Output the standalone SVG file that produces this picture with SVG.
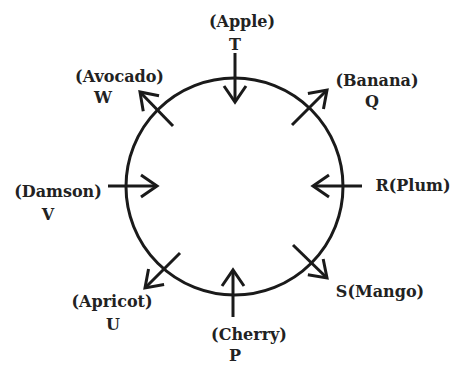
<svg xmlns="http://www.w3.org/2000/svg" width="454" height="365" viewBox="0 0 454 365">
<defs>
<marker id="ah" markerUnits="userSpaceOnUse" orient="auto" markerWidth="40" markerHeight="40" refX="0" refY="0" viewBox="-20 -20 40 40" overflow="visible">
<path d="M-16,-11 L0,0 L-16,11" fill="none" stroke="#1a1a1a" stroke-width="3" stroke-linejoin="miter" stroke-linecap="butt"/>
</marker>
<style>
.lbl{font-family:"DejaVu Serif","Liberation Serif",serif;font-weight:bold;font-size:16px;fill:#222;text-anchor:middle}
.ar{stroke:#1a1a1a;stroke-width:3;fill:none;marker-end:url(#ah)}
</style>
</defs>
<rect width="454" height="365" fill="#fff"/>
<g id="ring"><circle cx="234.5" cy="186.5" r="108.5" fill="none" stroke="#1a1a1a" stroke-width="3"/></g>
<g id="connectors">
<line class="ar" x1="235" y1="53" x2="235" y2="102"/>
<line class="ar" x1="173" y1="126" x2="140" y2="92"/>
<line class="ar" x1="292" y1="125" x2="327" y2="90"/>
<line class="ar" x1="108" y1="186" x2="157" y2="186"/>
<line class="ar" x1="362" y1="186" x2="313" y2="186"/>
<line class="ar" x1="180" y1="253" x2="145" y2="288"/>
<line class="ar" x1="293" y1="245" x2="327" y2="278"/>
<line class="ar" x1="233" y1="317" x2="233" y2="270"/>
</g>
<g id="apple"><text class="lbl" x="242" y="27">(Apple)</text><text class="lbl" x="235" y="50">T</text></g>
<g id="avocado"><text class="lbl" x="119.5" y="82">(Avocado)</text><text class="lbl" x="103" y="103">W</text></g>
<g id="banana"><text class="lbl" x="377" y="86">(Banana)</text><text class="lbl" x="372" y="107">Q</text></g>
<g id="damson"><text class="lbl" x="58" y="197">(Damson)</text><text class="lbl" x="48" y="220">V</text></g>
<g id="plum"><text class="lbl" x="413" y="191">R(Plum)</text></g>
<g id="apricot"><text class="lbl" x="112" y="307">(Apricot)</text><text class="lbl" x="113" y="330">U</text></g>
<g id="mango"><text class="lbl" x="380" y="297">S(Mango)</text></g>
<g id="cherry"><text class="lbl" x="249" y="340">(Cherry)</text><text class="lbl" x="235" y="361">P</text></g>
</svg>
